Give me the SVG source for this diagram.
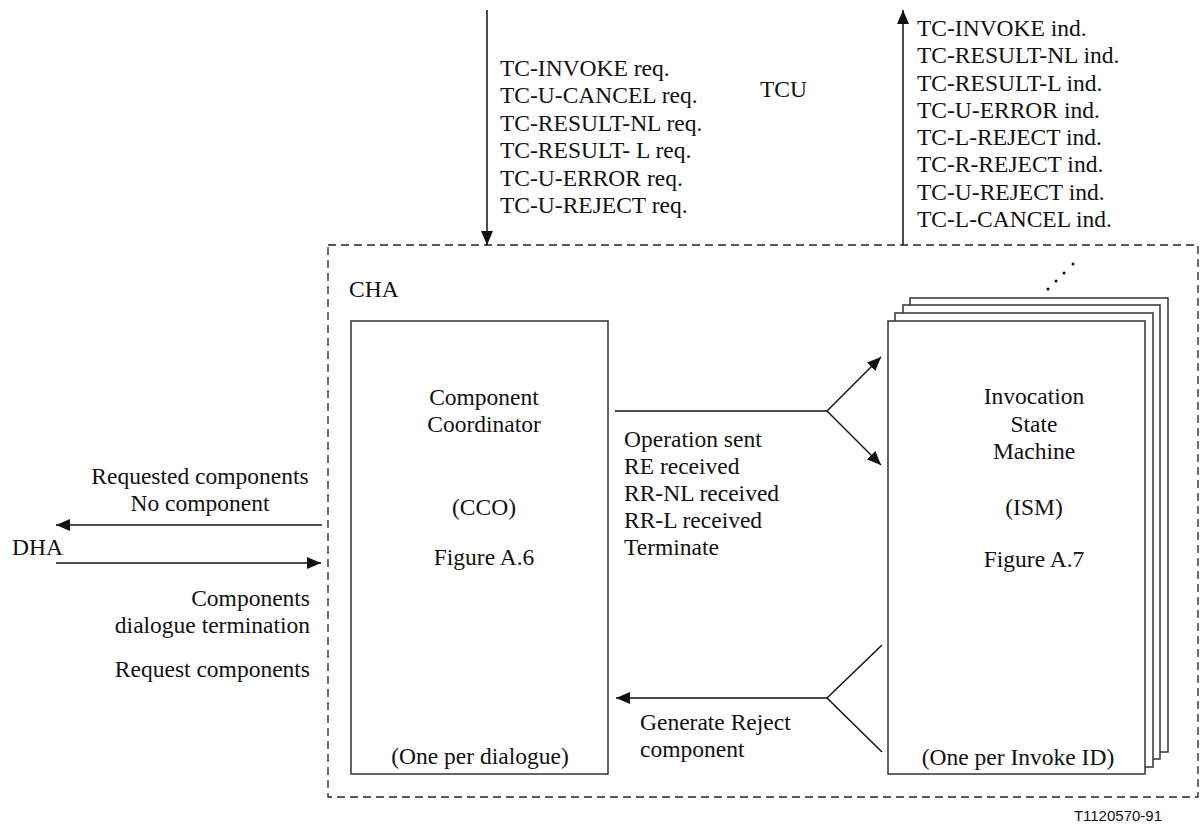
<svg xmlns="http://www.w3.org/2000/svg" width="1200" height="827" viewBox="0 0 1200 827">
<style>
text{font-family:"Liberation Serif","Times New Roman",serif;font-size:23.5px;fill:#111}
.mid{text-anchor:middle}
.end{text-anchor:end}
.box{fill:#fff;stroke:#333;stroke-width:1.5}
.ln{fill:none;stroke:#111;stroke-width:1.5}
.dash{fill:none;stroke:#222;stroke-width:1.3;stroke-dasharray:8 5}
.id{font-family:"Liberation Sans",Arial,sans-serif;font-size:15px}
</style>
<defs>
<marker id="ah" viewBox="0 0 14 12" refX="14" refY="6" markerWidth="14" markerHeight="12" markerUnits="userSpaceOnUse" orient="auto">
<path d="M0,0 L14,6 L0,12 Z" fill="#111"/>
</marker>
</defs>
<rect width="1200" height="827" fill="#fff"/>

<g id="cha">
<rect class="dash" x="328" y="245" width="870" height="552"/>
<text x="349" y="297">CHA</text>
</g>

<g id="tcu">
<text x="760" y="97">TCU</text>
</g>

<g id="dha">
<text x="12" y="555">DHA</text>
</g>

<g id="cco">
<rect class="box" x="351" y="321" width="257" height="453"/>
<text class="mid" x="484" y="405">Component</text>
<text class="mid" x="484" y="432">Coordinator</text>
<text class="mid" x="484" y="515">(CCO)</text>
<text class="mid" x="484" y="565">Figure A.6</text>
<text class="mid" x="480" y="764">(One per dialogue)</text>
</g>

<g id="ism">
<rect class="box" x="910" y="298" width="258" height="454"/>
<rect class="box" x="903" y="305" width="257" height="454"/>
<rect class="box" x="895" y="313" width="258" height="454"/>
<rect class="box" x="888" y="321" width="257" height="453"/>
<circle cx="1048" cy="289" r="1.5" fill="#111"/>
<circle cx="1056" cy="281" r="1.5" fill="#111"/>
<circle cx="1064" cy="273" r="1.5" fill="#111"/>
<circle cx="1073" cy="264" r="1.5" fill="#111"/>
<text class="mid" x="1034" y="404">Invocation</text>
<text class="mid" x="1034" y="432">State</text>
<text class="mid" x="1034" y="459">Machine</text>
<text class="mid" x="1034" y="515">(ISM)</text>
<text class="mid" x="1034" y="567">Figure A.7</text>
<text class="mid" x="1018" y="765">(One per Invoke ID)</text>
</g>

<g id="connectors">
<line class="ln" x1="487" y1="10" x2="487" y2="245" marker-end="url(#ah)"/>
<line class="ln" x1="903" y1="245" x2="903" y2="10" marker-end="url(#ah)"/>
<line class="ln" x1="322" y1="525" x2="56" y2="525" marker-end="url(#ah)"/>
<line class="ln" x1="56" y1="563" x2="321" y2="563" marker-end="url(#ah)"/>
<polyline class="ln" points="615,411 827,411"/>
<line class="ln" x1="827" y1="411" x2="881" y2="357" marker-end="url(#ah)"/>
<line class="ln" x1="827" y1="411" x2="881" y2="465" marker-end="url(#ah)"/>
<line class="ln" x1="827" y1="698" x2="616" y2="698" marker-end="url(#ah)"/>
<line class="ln" x1="827" y1="698" x2="882" y2="645"/>
<line class="ln" x1="827" y1="698" x2="882" y2="752"/>
</g>

<g id="labels">
<text x="500" y="76">TC-INVOKE req.</text>
<text x="500" y="103">TC-U-CANCEL req.</text>
<text x="500" y="131">TC-RESULT-NL req.</text>
<text x="500" y="158">TC-RESULT- L req.</text>
<text x="500" y="186">TC-U-ERROR req.</text>
<text x="500" y="213">TC-U-REJECT req.</text>

<text x="917" y="36">TC-INVOKE ind.</text>
<text x="917" y="63">TC-RESULT-NL ind.</text>
<text x="917" y="91">TC-RESULT-L ind.</text>
<text x="917" y="118">TC-U-ERROR ind.</text>
<text x="917" y="145">TC-L-REJECT ind.</text>
<text x="917" y="172">TC-R-REJECT ind.</text>
<text x="917" y="200">TC-U-REJECT ind.</text>
<text x="917" y="227">TC-L-CANCEL ind.</text>

<text x="624" y="447">Operation sent</text>
<text x="624" y="474">RE received</text>
<text x="624" y="501">RR-NL received</text>
<text x="624" y="528">RR-L received</text>
<text x="624" y="555">Terminate</text>

<text class="mid" x="200" y="484">Requested components</text>
<text class="mid" x="200" y="511">No component</text>
<text class="end" x="310" y="606">Components</text>
<text class="end" x="310" y="633">dialogue termination</text>
<text class="end" x="310" y="677">Request components</text>

<text x="640" y="730">Generate Reject</text>
<text x="640" y="757">component</text>

<text class="id end" x="1162" y="821">T1120570-91</text>
</g>
</svg>
